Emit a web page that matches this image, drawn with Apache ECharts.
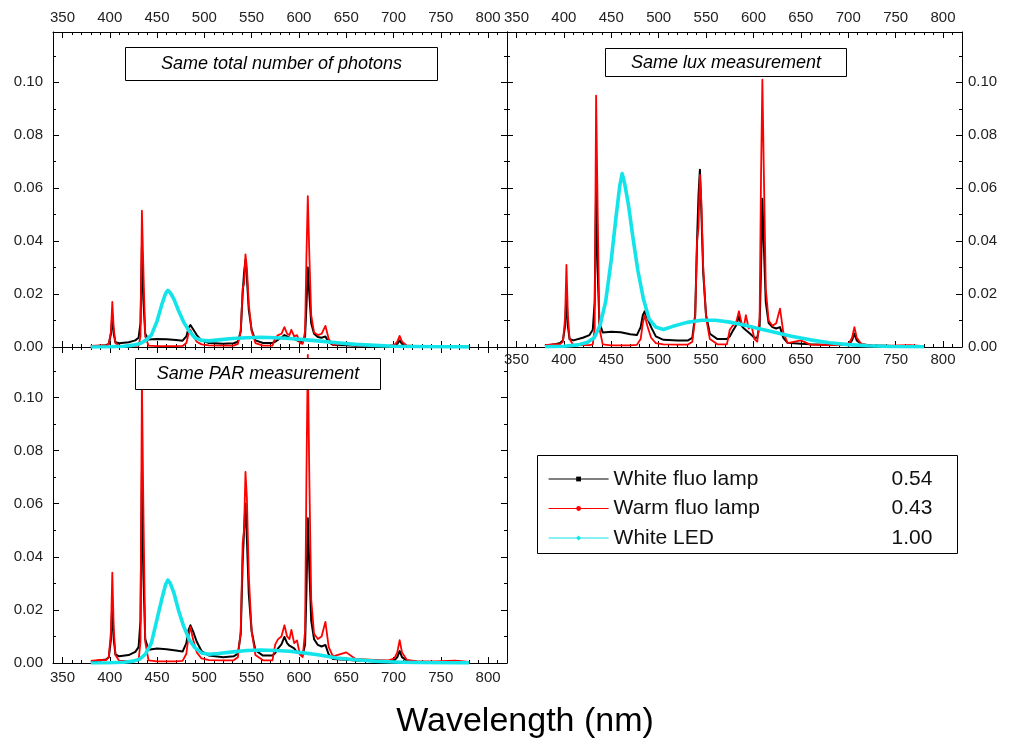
<!DOCTYPE html>
<html lang="en">
<head>
    <meta charset="UTF-8">
    <title>Spectra</title>
    <script src="https://cdn.jsdelivr.net/npm/echarts@6.0.0/dist/echarts.min.js"></script>
    <style>
        *{
            padding:0;
            margin:0;
        }
        html,body{
            background:#fff;
        }
        #main{
            width:1009px;
            height:749px;
        }
    </style>
</head>
<body>
<div id="main"></div>
<script>
    // wavelengths (nm) sampled for the two fluo lamps
    var wlFluo = [
        380, 390, 396, 399, 401.3, 402.7, 404.2, 406, 410,
        420, 427, 430.5, 432.5, 434, 435.5, 437.5, 441,
        450, 460, 470, 477, 481, 483.3, 485.3, 488, 492, 497, 505,
        520, 531, 535.5, 538.5, 540.5, 542, 543.5, 545, 547, 550, 554,
        562, 572, 575, 578, 581.5, 584.7, 587.5, 590, 592, 595, 598, 601, 604,
        606.5, 608, 609.4, 611, 613, 616, 620, 624, 628, 631.5, 636,
        650, 660, 680, 695, 701, 704, 706.5, 709, 714, 725, 745, 765, 780
    ];
    // wavelengths (nm) sampled for the LED
    var wlLed = [
        380, 400, 415, 425, 432, 438, 444, 450, 455, 459, 461.5, 464, 468, 473, 478, 484, 490,
        497, 505, 515, 530, 545, 560, 575, 590, 605, 620, 640, 660, 680, 700, 720, 745, 780
    ];

    // Same total number of photons
    var photonsWhite = [
        0.0002, 0.0005, 0.0007, 0.0012, 0.005, 0.012, 0.005, 0.0018, 0.0014,
        0.0018, 0.0025, 0.0035, 0.009, 0.038, 0.018, 0.005, 0.0028,
        0.003, 0.0029, 0.0026, 0.0024, 0.004, 0.0072, 0.0083, 0.0068, 0.0045, 0.0025, 0.0015,
        0.0012, 0.0014, 0.002, 0.006, 0.02, 0.028, 0.033, 0.026, 0.014, 0.0065, 0.0025,
        0.0015, 0.0015, 0.002, 0.0028, 0.0035, 0.0045, 0.004, 0.0035, 0.0038, 0.003, 0.0025, 0.002, 0.0018,
        0.004, 0.016, 0.030, 0.02, 0.009, 0.005, 0.0038, 0.0035, 0.004, 0.0018, 0.0008,
        0.0007, 0.0005, 0.0004, 0.0004, 0.0006, 0.0012, 0.0025, 0.0012, 0.0005, 0.0003, 0.0002, 0.0002, 0.0001
    ];
    var photonsWarm = [
        0.0004, 0.0006, 0.0005, 0.001, 0.006, 0.017, 0.007, 0.0015, 0.0004,
        0.0004, 0.0004, 0.0005, 0.004, 0.0515, 0.03, 0.004, 0.0005,
        0.0003, 0.0003, 0.0003, 0.0004, 0.0015, 0.005, 0.0065, 0.0045, 0.002, 0.001, 0.0006,
        0.0005, 0.0005, 0.0012, 0.006, 0.022, 0.024, 0.035, 0.03, 0.016, 0.006, 0.0015,
        0.0005, 0.0005, 0.0035, 0.0045, 0.005, 0.0075, 0.005, 0.0045, 0.0065, 0.004, 0.0045, 0.0015, 0.0012,
        0.006, 0.035, 0.057, 0.035, 0.012, 0.0055, 0.0045, 0.005, 0.008, 0.003, 0.0008,
        0.0012, 0.0005, 0.0004, 0.0004, 0.0008, 0.002, 0.0042, 0.002, 0.0006, 0.0003, 0.0003, 0.0004, 0.0002
    ];
    var photonsLed = [
        0, 0.0001, 0.0003, 0.0007, 0.0013, 0.0025, 0.0045, 0.0098, 0.016, 0.0202, 0.0214, 0.0205, 0.018, 0.0135, 0.0095, 0.006, 0.0035,
        0.0025, 0.0023, 0.0027, 0.0032, 0.0035, 0.0037, 0.0035, 0.0032, 0.0028, 0.0023, 0.0016, 0.001, 0.0006, 0.0003, 0.0002, 0.0001, 0.00005
    ];

    // Same lux measurement
    var luxWhite = [
        0.0004, 0.001, 0.0015, 0.0025, 0.008, 0.02, 0.008, 0.003, 0.0025,
        0.0035, 0.0045, 0.0065, 0.017, 0.06, 0.03, 0.009, 0.0055,
        0.0058, 0.0056, 0.0048, 0.0045, 0.0075, 0.012, 0.0135, 0.011, 0.0075, 0.004, 0.0027,
        0.0025, 0.0025, 0.0035, 0.012, 0.04, 0.057, 0.067, 0.052, 0.028, 0.012, 0.005,
        0.003, 0.003, 0.004, 0.006, 0.008, 0.0115, 0.008, 0.007, 0.0075, 0.0055, 0.0045, 0.0035, 0.0035,
        0.008, 0.03, 0.056, 0.038, 0.017, 0.009, 0.0075, 0.007, 0.0075, 0.0035, 0.0016,
        0.0012, 0.001, 0.0008, 0.0008, 0.0012, 0.0025, 0.005, 0.0025, 0.001, 0.0006, 0.0004, 0.0004, 0.0002
    ];
    var luxWarm = [
        0.0007, 0.0011, 0.001, 0.002, 0.011, 0.031, 0.012, 0.003, 0.0007,
        0.0007, 0.0007, 0.001, 0.007, 0.095, 0.055, 0.007, 0.001,
        0.0006, 0.0006, 0.0006, 0.0008, 0.003, 0.009, 0.012, 0.008, 0.0035, 0.0015, 0.001,
        0.0009, 0.0009, 0.002, 0.011, 0.04, 0.045, 0.065, 0.055, 0.03, 0.011, 0.003,
        0.001, 0.001, 0.0065, 0.008, 0.009, 0.0135, 0.009, 0.008, 0.012, 0.007, 0.008, 0.003, 0.002,
        0.011, 0.065, 0.101, 0.065, 0.022, 0.01, 0.008, 0.009, 0.0145, 0.0055, 0.0015,
        0.0025, 0.0009, 0.0007, 0.0007, 0.0015, 0.0035, 0.0075, 0.0035, 0.001, 0.0006, 0.0005, 0.0007, 0.0003
    ];
    var luxLed = [
        0.0001, 0.0003, 0.0008, 0.0018, 0.0035, 0.008, 0.017, 0.033, 0.049, 0.061, 0.0655, 0.062, 0.054, 0.041, 0.029, 0.018, 0.0105,
        0.0075, 0.0066, 0.0078, 0.0093, 0.0101, 0.0101, 0.0094, 0.0083, 0.007, 0.0058, 0.0041, 0.0027, 0.0016, 0.0009, 0.0005, 0.0002, 0.0001
    ];

    // Same PAR measurement
    var parWhite = [
        0.0004, 0.001, 0.0013, 0.0022, 0.009, 0.0225, 0.009, 0.0032, 0.0025,
        0.003, 0.0042, 0.006, 0.016, 0.072, 0.034, 0.009, 0.005,
        0.0055, 0.0052, 0.0047, 0.0043, 0.0075, 0.0125, 0.0142, 0.012, 0.008, 0.0045, 0.0028,
        0.0022, 0.0025, 0.0035, 0.011, 0.038, 0.05, 0.06, 0.047, 0.026, 0.012, 0.0048,
        0.0028, 0.0028, 0.0038, 0.0055, 0.007, 0.0098, 0.0075, 0.0065, 0.007, 0.0055, 0.004, 0.0035, 0.003,
        0.007, 0.028, 0.0545, 0.036, 0.016, 0.009, 0.0068, 0.0062, 0.0068, 0.0032, 0.0015,
        0.0012, 0.0009, 0.0007, 0.0007, 0.001, 0.0022, 0.0045, 0.0022, 0.0009, 0.0005, 0.0004, 0.0004, 0.0002
    ];
    var parWarm = [
        0.0008, 0.0012, 0.0011, 0.0022, 0.012, 0.034, 0.013, 0.003, 0.0008,
        0.0008, 0.0008, 0.001, 0.008, 0.106, 0.06, 0.008, 0.001,
        0.0006, 0.0006, 0.0006, 0.0008, 0.0035, 0.01, 0.0136, 0.009, 0.004, 0.0017, 0.0011,
        0.001, 0.001, 0.0022, 0.012, 0.045, 0.05, 0.072, 0.062, 0.033, 0.012, 0.003,
        0.001, 0.001, 0.007, 0.009, 0.01, 0.0142, 0.01, 0.009, 0.0125, 0.0075, 0.0085, 0.0032, 0.0022,
        0.012, 0.072, 0.116, 0.07, 0.024, 0.011, 0.009, 0.01, 0.0155, 0.006, 0.0025,
        0.004, 0.0015, 0.0012, 0.001, 0.0018, 0.004, 0.0086, 0.004, 0.0012, 0.0006, 0.0006, 0.0009, 0.0004
    ];
    var parLed = [
        0, 0.0001, 0.0003, 0.0007, 0.0015, 0.0035, 0.0075, 0.0165, 0.024, 0.0295, 0.0312, 0.03, 0.0262, 0.0195, 0.014, 0.0088, 0.0058,
        0.0038, 0.0033, 0.0036, 0.0042, 0.0047, 0.0049, 0.0047, 0.0044, 0.0038, 0.0031, 0.0019, 0.0012, 0.0007, 0.0004, 0.0002, 0.0001, 0.00005
    ];

    var seriesNames = ['White fluo lamp', 'Warm fluo lamp', 'White LED'];
    var legendValues = ['0.54', '0.43', '1.00'];
    var panelTitles = ['Same total number of photons', 'Same lux measurement', 'Same PAR measurement'];
    var xTickValues = [350, 400, 450, 500, 550, 600, 650, 700, 750, 800];

    var FONT = '"Liberation Sans", Arial, sans-serif';
    var colors = ['#000000', '#ff0000', '#12e4ea'];
    var widths = [2, 1.8, 3.6];
    var symbols = ['rect', 'circle', 'diamond'];

    var panels = [
        {white: photonsWhite, warm: photonsWarm, led: photonsLed},
        {white: luxWhite, warm: luxWarm, led: luxLed},
        {white: parWhite, warm: parWarm, led: parLed}
    ];

    var grids = [
        {left: 53, top: 32, width: 454, height: 315},
        {left: 507, top: 32, width: 455, height: 315},
        {left: 53, top: 347, width: 454, height: 316}
    ];

    function toPairs(wl, vals) {
        var out = [];
        for (var i = 0; i < wl.length; i++) {
            out.push([wl[i], vals[i]]);
        }
        return out;
    }

    // 4 x axes per grid: bottom minor, bottom major, top minor, top major
    function makeXAxes(g, showBottom, showTop, marginBottom, marginTop) {
        var list = [];
        ['bottom', 'top'].forEach(function (pos) {
            var show = pos === 'top' ? showTop : showBottom;
            list.push({
                type: 'value', gridIndex: g, position: pos,
                min: 340, max: 820, interval: 10,
                axisLine: {show: true, lineStyle: {color: '#000', width: 1}},
                axisTick: {show: true, inside: true, length: 3, lineStyle: {color: '#000'}},
                axisLabel: {
                    show: show, customValues: xTickValues,
                    margin: pos === 'top' ? marginTop : marginBottom,
                    color: '#222', fontSize: 15, fontFamily: FONT
                },
                splitLine: {show: false}
            });
            list.push({
                type: 'value', gridIndex: g, position: pos,
                min: 340, max: 820,
                axisLine: {show: false},
                axisTick: {show: true, inside: true, length: 6, customValues: xTickValues, lineStyle: {color: '#000'}},
                axisLabel: {show: false},
                splitLine: {show: false}
            });
        });
        return list;
    }

    function makeYAxes(g, showLeft, showRight) {
        return ['left', 'right'].map(function (pos) {
            return {
                type: 'value', gridIndex: g, position: pos,
                min: 0, max: 0.119, interval: 0.02,
                axisLine: {show: true, lineStyle: {color: '#000', width: 1}},
                axisTick: {show: true, inside: true, length: 6, lineStyle: {color: '#000'}},
                minorTick: {show: true, splitNumber: 2, length: 3, lineStyle: {color: '#000'}},
                axisLabel: {
                    show: pos === 'left' ? showLeft : showRight,
                    showMaxLabel: false,
                    margin: pos === 'left' ? 10 : 6,
                    color: '#222', fontSize: 15, fontFamily: FONT,
                    formatter: function (v) { return v.toFixed(2); }
                },
                splitLine: {show: false}
            };
        });
    }

    var xAxes = [].concat(
        makeXAxes(0, false, true, 6, 7),
        makeXAxes(1, true, true, 5, 7),
        makeXAxes(2, true, false, 7, 7)
    );
    var yAxes = [].concat(
        makeYAxes(0, true, false),
        makeYAxes(1, false, true),
        makeYAxes(2, true, false)
    );

    var series = [];
    panels.forEach(function (p, g) {
        var sets = [toPairs(wlFluo, p.white), toPairs(wlFluo, p.warm), toPairs(wlLed, p.led)];
        for (var k = 0; k < 3; k++) {
            series.push({
                name: seriesNames[k],
                type: 'line',
                xAxisIndex: 4 * g,
                yAxisIndex: 2 * g,
                data: sets[k],
                showSymbol: false,
                symbol: symbols[k],
                symbolSize: 5,
                itemStyle: {color: colors[k]},
                lineStyle: {color: colors[k], width: widths[k], join: 'round'},
                animation: false
            });
        }
    });

    var titleBoxes = [
        {x: 125.5, y: 47.5, w: 312, h: 33},
        {x: 605.5, y: 48.5, w: 241, h: 28},
        {x: 135.5, y: 358.5, w: 245, h: 31}
    ];
    var graphics = [];
    titleBoxes.forEach(function (b, i) {
        graphics.push({
            type: 'rect', z: 100,
            shape: {x: b.x, y: b.y, width: b.w, height: b.h},
            style: {fill: '#fff', stroke: '#000', lineWidth: 1}
        });
        graphics.push({
            type: 'text', z: 101,
            x: b.x + b.w / 2, y: b.y + b.h / 2,
            style: {
                text: panelTitles[i], fill: '#000',
                font: 'italic 18px ' + FONT,
                align: 'center', verticalAlign: 'middle'
            }
        });
    });
    // legend frame
    graphics.push({
        type: 'rect', z: 100,
        shape: {x: 537.5, y: 455.5, width: 420, height: 98},
        style: {fill: 'none', stroke: '#000', lineWidth: 1}
    });
    // x axis title
    graphics.push({
        type: 'text', z: 101,
        x: 525, y: 722,
        style: {
            text: 'Wavelength (nm)', fill: '#000',
            font: '34px ' + FONT,
            align: 'center', verticalAlign: 'middle'
        }
    });

    var myChart = echarts.init(document.getElementById('main'));
    var option = {
        backgroundColor: '#fff',
        animation: false,
        grid: grids,
        xAxis: xAxes,
        yAxis: yAxes,
        legend: {
            data: seriesNames,
            orient: 'vertical',
            left: 543,
            top: 463,
            itemWidth: 60,
            itemHeight: 6,
            itemGap: 7.5,
            lineStyle: {width: 1.2},
            textStyle: {
                fontSize: 21, fontFamily: FONT, color: '#111', lineHeight: 22,
                rich: {
                    n: {width: 278, fontSize: 21, fontFamily: FONT, color: '#111'},
                    v: {fontSize: 21, fontFamily: FONT, color: '#111'}
                }
            },
            formatter: function (name) {
                return '{n|' + name + '}{v|' + legendValues[seriesNames.indexOf(name)] + '}';
            }
        },
        graphic: graphics,
        series: series
    };
    myChart.setOption(option);
</script>
</body>
</html>
